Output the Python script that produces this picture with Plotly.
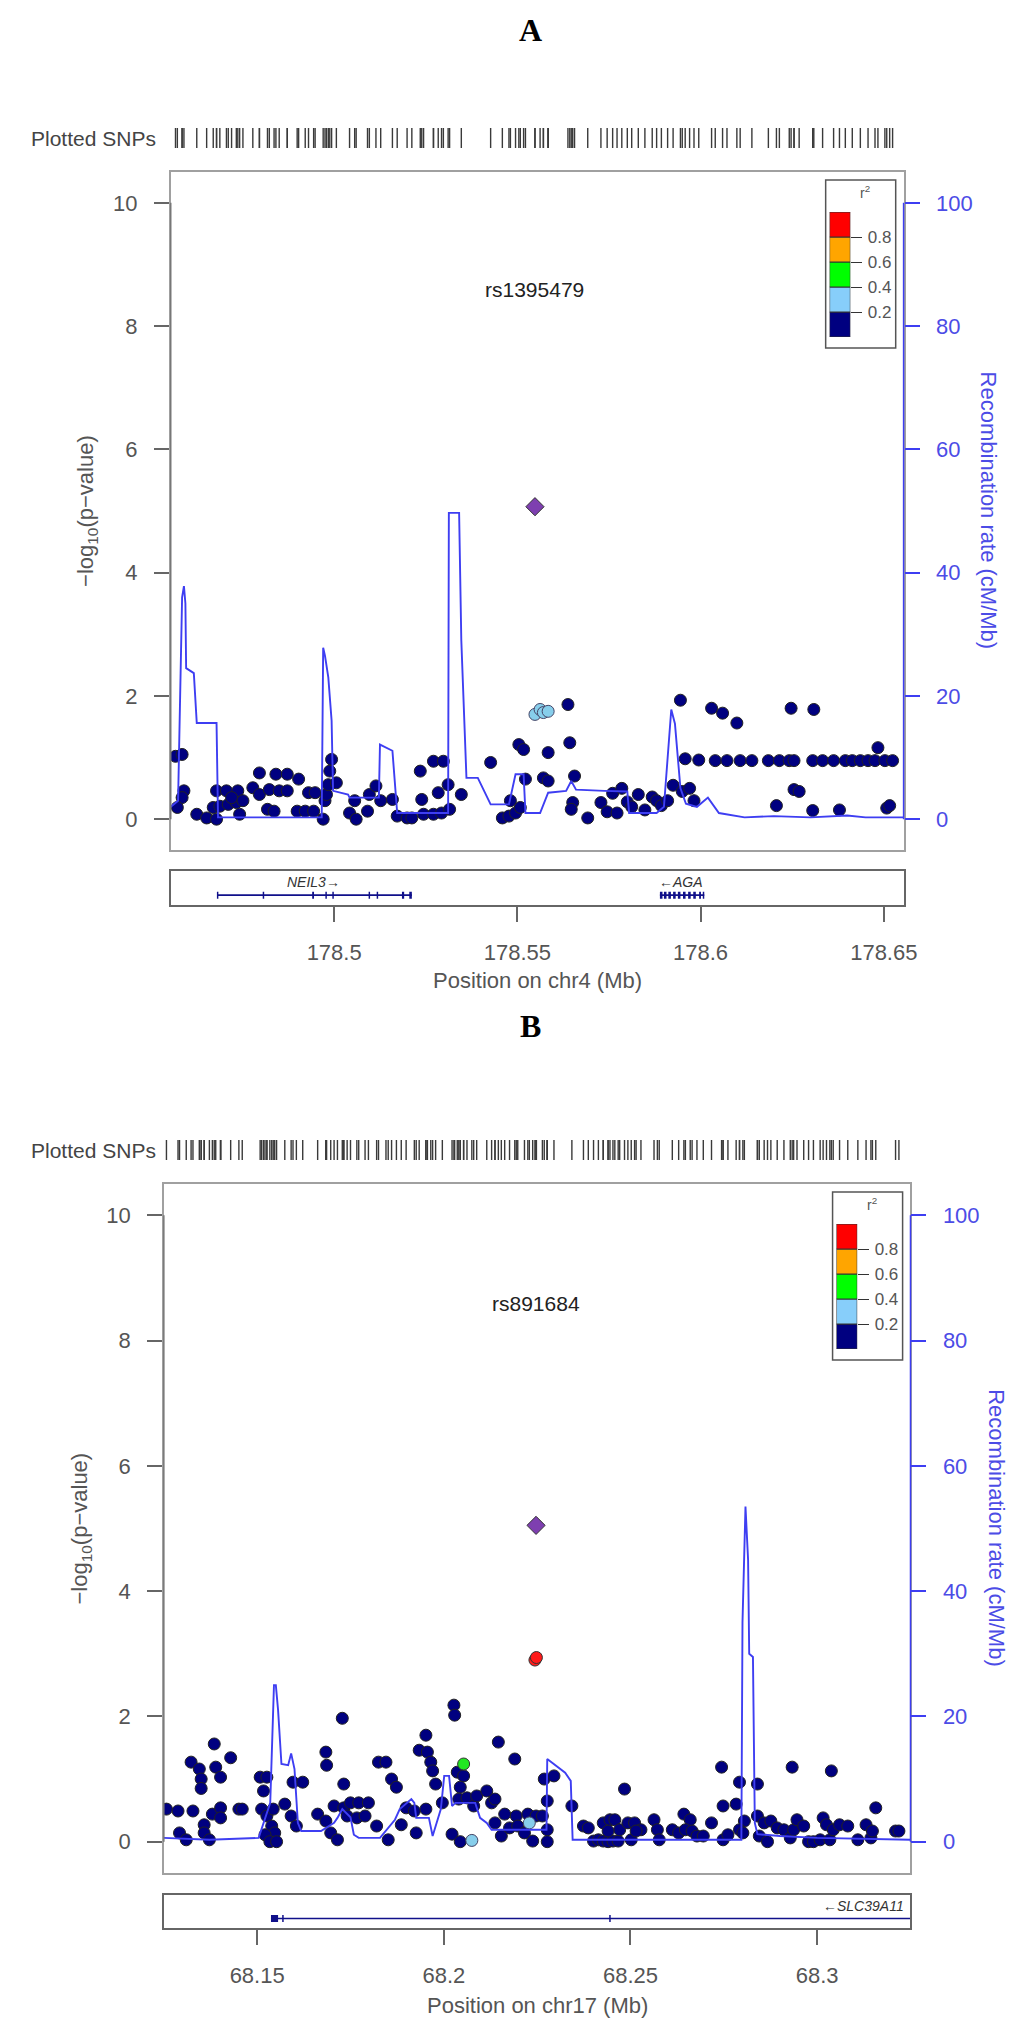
import plotly.graph_objects as go

W, H = 1024, 2020

# ---------------- Panel A data ----------------
a_nav_x = [178.4567, 178.4585, 178.4590, 178.4585, 178.4572, 178.4625, 178.4652, 178.4679, 178.4679, 178.4706,
           178.4737, 178.4670, 178.4688, 178.4711, 178.4733, 178.4742, 178.4720, 178.4751, 178.4796, 178.4778,
           178.4796, 178.4823, 178.4850, 178.4872, 178.4841, 178.4872, 178.4903, 178.4818, 178.4836, 178.4899,
           178.4921, 178.4944, 178.4930, 178.4948, 178.4970, 178.4975, 178.4979, 178.4984, 178.4993, 178.4988,
           178.5006, 178.5042, 178.5060, 178.5056, 178.5091, 178.5096, 178.5114, 178.5127, 178.5159, 178.5172,
           178.5199, 178.5212, 178.5235, 178.5239, 178.5244, 178.5271, 178.5293, 178.5315, 178.5271, 178.5298,
           178.5284, 178.5311, 178.5347, 178.5427, 178.5459, 178.5477, 178.5495, 178.5508, 178.5481, 178.5504,
           178.5517, 178.5522, 178.5571, 178.5584, 178.5584, 178.5638, 178.5643, 178.5656, 178.5651, 178.5647,
           178.5692, 178.5728, 178.5745, 178.5760, 178.5772, 178.5785, 178.5800, 178.5812, 178.5830, 178.5848,
           178.5868, 178.5880, 178.5893, 178.5910, 178.5925, 178.5945, 178.5950, 178.5958, 178.5970, 178.5982,
           178.5995, 178.6030, 178.6040, 178.6060, 178.6072, 178.6099, 178.6108, 178.6140, 178.6185, 178.6215,
           178.6242, 178.6255, 178.6306, 178.6333, 178.6363, 178.6395, 178.6414, 178.6436, 178.6457, 178.6476,
           178.6503, 178.6524, 178.6484, 178.6207, 178.6255, 178.6269, 178.6306, 178.6379, 178.6508, 178.6516,
           178.6247, 178.6309]
a_nav_y = [1.02, 1.05, 0.46, 0.35, 0.19, 0.08, 0.02, 0.00, 0.46, 0.46,
           0.46, 0.19, 0.21, 0.24, 0.27, 0.08, 0.35, 0.30, 0.75, 0.51,
           0.40, 0.48, 0.46, 0.46, 0.73, 0.73, 0.65, 0.16, 0.13, 0.13,
           0.13, 0.13, 0.43, 0.43, 0.00, 0.30, 0.40, 0.56, 0.97, 0.78,
           0.59, 0.10, 0.00, 0.30, 0.13, 0.40, 0.54, 0.30, 0.32, 0.05,
           0.02, 0.02, 0.78, 0.32, 0.08, 0.08, 0.10, 0.16, 0.94, 0.94,
           0.43, 0.56, 0.40, 0.92, 0.02, 0.05, 0.10, 0.19, 0.30, 1.21,
           1.13, 0.65, 0.67, 0.62, 1.08, 1.86, 1.24, 0.70, 0.27, 0.16,
           0.02, 0.27, 0.12, 0.42, 0.10, 0.50, 0.28, 0.20, 0.40, 0.15,
           0.36, 0.30, 0.22, 0.30, 0.55, 1.93, 0.45, 0.98, 0.50, 0.30,
           0.96, 1.80, 0.95, 1.72, 0.95, 1.56, 0.95, 0.95, 0.95, 0.95,
           0.95, 0.95, 0.95, 0.95, 0.95, 0.95, 0.95, 0.95, 0.95, 0.95,
           0.95, 0.95, 1.16, 0.22, 0.48, 0.45, 0.14, 0.15, 0.18, 0.22,
           1.80, 1.78]
a_lb_x = [178.5548, 178.5562, 178.5571, 178.5584]
a_lb_y = [1.70, 1.78, 1.73, 1.75]
a_lead_x = [178.5548]
a_lead_y = [5.07]
a_rec_x = [178.4554, 178.4574, 178.4585, 178.4590, 178.4594, 178.4596, 178.4617, 178.4625, 178.4679, 178.4683,
           178.4966, 178.4970, 178.4975, 178.4984, 178.4993, 178.4997, 178.5038, 178.5042, 178.5122, 178.5125,
           178.5159, 178.5165, 178.5172, 178.5311, 178.5313, 178.5341, 178.5347, 178.5361, 178.5392, 178.5427,
           178.5477, 178.5495, 178.5517, 178.5522, 178.5562, 178.5584, 178.5633, 178.5647, 178.5660, 178.5737,
           178.5800, 178.5805, 178.5880, 178.5900, 178.5920, 178.5930, 178.5945, 178.5960, 178.5990, 178.6020,
           178.6050, 178.6120, 178.6200, 178.6300, 178.6400, 178.6450, 178.6554]
a_rec_y = [2.0, 3.0, 36.0, 37.8, 35.0, 24.5, 23.7, 15.6, 15.6, 0.3,
           0.3, 27.8, 26.5, 23.0, 16.0, 4.6, 4.0, 3.5, 3.5, 12.1,
           11.1, 5.6, 1.0, 1.0, 49.7, 49.7, 29.0, 6.7, 6.7, 2.4,
           2.4, 7.3, 7.3, 1.0, 1.0, 4.3, 4.6, 6.2, 4.8, 4.6,
           4.5, 1.0, 1.0, 2.0, 17.8, 15.5, 5.0, 2.5, 2.0, 3.5,
           1.0, 0.3, 0.5, 0.3, 0.6, 0.3, 0.3]
a_xticks = [178.5, 178.55, 178.6, 178.65]
a_xticktext = ["178.5", "178.55", "178.6", "178.65"]
a_genes = ["NEIL3\u2192", "\u2190AGA"]
a_gene_start = [178.4682, 178.5889]
a_gene_end = [178.5212, 178.6010]
a_gene_label_x = [178.4944, 178.5946]
a_exon_start = [178.4680, 178.4805, 178.4940, 178.4976, 178.4995, 178.5094, 178.5116, 178.5185, 178.5205,
                178.5889, 178.5900, 178.5912, 178.5925, 178.5938, 178.5952, 178.5966, 178.5980, 178.5996, 178.6006]
a_exon_end = [178.4684, 178.4809, 178.4945, 178.4980, 178.4999, 178.5098, 178.5120, 178.5191, 178.5212,
              178.5896, 178.5907, 178.5919, 178.5932, 178.5945, 178.5959, 178.5973, 178.5987, 178.6001, 178.6010]
a_snp = "rs1395479"
a_chr = "Position on chr4 (Mb)"
a_range = [178.4554, 178.6554]

# ---------------- Panel B data ----------------
b_nav_x = [68.1257, 68.1288, 68.1328, 68.1292, 68.1310, 68.1323, 68.1345, 68.1350, 68.1350, 68.1385,
           68.1389, 68.1402, 68.1429, 68.1358, 68.1358, 68.1372, 68.1380, 68.1402, 68.1402, 68.1451,
           68.1460, 68.1508, 68.1526, 68.1517, 68.1512, 68.1526, 68.1543, 68.1539, 68.1547, 68.1521,
           68.1534, 68.1552, 68.1574, 68.1591, 68.1605, 68.1596, 68.1622, 68.1662, 68.1684, 68.1684,
           68.1686, 68.1697, 68.1715, 68.1706, 68.1732, 68.1741, 68.1728, 68.1732, 68.1750, 68.1772,
           68.1798, 68.1767, 68.1789, 68.1820, 68.1825, 68.1845, 68.1860, 68.1873, 68.1851, 68.1886,
           68.1899, 68.1921, 68.1926, 68.1952, 68.1934, 68.1956, 68.1965, 68.1970, 68.1952, 68.1978,
           68.1996, 68.2027, 68.2029, 68.2036, 68.2053, 68.2044, 68.2040, 68.2062, 68.2080, 68.2088,
           68.2115, 68.2128, 68.2137, 68.2022, 68.2044, 68.2146, 68.2190, 68.2137, 68.2154, 68.2176,
           68.2163, 68.2194, 68.2198, 68.2216, 68.2225, 68.2247, 68.2238, 68.2264, 68.2277, 68.2277,
           68.2277, 68.2269, 68.2295,
           68.2343, 68.2374, 68.2387, 68.2401, 68.2414, 68.2427, 68.2440, 68.2453, 68.2467, 68.2427,
           68.2445, 68.2458, 68.2471, 68.2440, 68.2484, 68.2493, 68.2511, 68.2528, 68.2502, 68.2515,
           68.2563, 68.2572, 68.2577, 68.2612, 68.2629, 68.2643, 68.2660, 68.2647, 68.2665, 68.2678,
           68.2695, 68.2717, 68.2744, 68.2748, 68.2761, 68.2748, 68.2783, 68.2792, 68.2805, 68.2792,
           68.2801, 68.2840, 68.2840, 68.2845, 68.2867, 68.2858, 68.2876, 68.2893, 68.2911, 68.2928,
           68.2937, 68.2933, 68.2946, 68.2964, 68.2977, 68.2990, 68.3008, 68.3016, 68.3025, 68.3034,
           68.3043, 68.3038, 68.3060, 68.3082, 68.3109, 68.3131, 68.3144, 68.3148, 68.3157, 68.3210,
           68.3219]
b_nav_y = [0.52, 0.49, 0.49, 0.14, 0.03, 1.27, 1.16, 1.00, 0.85, 1.56,
           1.19, 1.03, 1.34, 0.27, 0.14, 0.03, 0.44, 0.54, 0.38, 0.52,
           0.52, 1.03, 1.03, 0.81, 0.52, 0.41, 0.52, 0.25, 0.14, 0.11,
           0.00, 0.00, 0.60, 0.41, 0.25, 0.95, 0.95, 0.44, 0.33, 1.43,
           1.22, 0.14, 0.03, 0.57, 0.54, 0.41, 1.97, 0.92, 0.62, 0.62,
           0.62, 0.38, 0.41, 0.25, 1.27, 1.27, 1.00, 0.87, 0.03, 0.27,
           0.54, 0.49, 0.14, 0.52, 1.46, 1.43, 1.27, 1.13, 1.70, 0.92,
           0.62, 2.18, 2.02, 1.11, 1.05, 0.87, 0.68, 0.70, 0.57, 0.73,
           0.81, 0.62, 0.68, 0.12, 0.00, 1.59, 1.32, 0.30, 0.09, 0.22,
           0.44, 0.41, 0.25, 0.14, 0.44, 0.41, 0.01, 0.41, 0.19, 0.00,
           0.65, 1.00, 1.05,
           0.57, 0.25, 0.22, 0.01, 0.03, 0.01, 0.00, 0.01, 0.01, 0.30,
           0.35, 0.35, 0.19, 0.17, 0.84, 0.30, 0.30, 0.19, 0.03, 0.17,
           0.35, 0.19, 0.03, 0.19, 0.14, 0.44, 0.35, 0.19, 0.17, 0.09,
           0.09, 0.30, 1.19, 0.03, 0.11, 0.57, 0.60, 0.95, 0.33, 0.19,
           0.14, 0.92, 0.41, 0.09, 0.00, 0.30, 0.33, 0.22, 0.19, 0.06,
           0.19, 1.19, 0.35, 0.25, 0.00, 0.00, 0.03, 0.38, 0.27, 0.03,
           0.19, 1.13, 0.27, 0.25, 0.03, 0.27, 0.06, 0.17, 0.54, 0.17,
           0.17]
b_lb_x = [68.2075, 68.2229]
b_lb_y = [0.02, 0.30]
b_gr_x = [68.2053]
b_gr_y = [1.24]
b_red_x = [68.2244, 68.2248]
b_red_y = [2.90, 2.94]
b_lead_x = [68.2247]
b_lead_y = [5.05]
b_rec_x = [68.1250, 68.1372, 68.1504, 68.1535, 68.1545, 68.1550, 68.1556, 68.1565, 68.1583, 68.1591,
           68.1600, 68.1609, 68.1618, 68.1671, 68.1706, 68.1715, 68.1728, 68.1750, 68.1759, 68.1772,
           68.1829, 68.1869, 68.1882, 68.1913, 68.1921, 68.1926, 68.1960, 68.1970, 68.1992, 68.2001,
           68.2014, 68.2022, 68.2031, 68.2084, 68.2097, 68.2115, 68.2128, 68.2180, 68.2275, 68.2277,
           68.2295, 68.2325, 68.2340, 68.2345, 68.2797, 68.2800, 68.2808, 68.2815, 68.2818, 68.2828,
           68.2833, 68.2840, 68.2900, 68.3000, 68.3250]
b_rec_y = [0.6, 0.3, 0.6, 6.2, 25.0, 25.0, 21.0, 12.4, 12.2, 14.1,
           11.6, 3.0, 1.7, 1.7, 3.0, 3.8, 5.2, 3.9, 1.1, 0.6,
           0.6, 3.5, 5.2, 6.8, 6.2, 3.8, 3.8, 0.9, 5.2, 10.5,
           10.5, 5.7, 6.2, 6.2, 3.8, 3.0, 1.9, 1.9, 1.9, 13.2,
           12.4, 11.0, 9.7, 0.3, 0.3, 35.0, 53.5, 45.0, 30.0, 29.5,
           3.0, 1.2, 0.9, 0.6, 0.3]
b_xticks = [68.15, 68.2, 68.25, 68.3]
b_xticktext = ["68.15", "68.2", "68.25", "68.3"]
b_genes = ["\u2190SLC39A11"]
b_gene_start = [68.1537]
b_gene_end = [68.3300]
b_gene_label_x = [68.3125]
b_exon_start = [68.1537, 68.1567, 68.2443]
b_exon_end = [68.1556, 68.1571, 68.2447]
b_snp = "rs891684"
b_chr = "Position on chr17 (Mb)"
b_range = [68.1250, 68.3250]

# ---------------- shared ----------------
y_ticks = [0, 2, 4, 6, 8, 10]
rec_ticks = [0, 20, 40, 60, 80, 100]
r2_breaks = [0.0, 0.2, 0.4, 0.6, 0.8]
r2_colors = ["#000080", "#87CEFA", "#00FF00", "#FFA500", "#FF0000"]
r2_ticks = [0.2, 0.4, 0.6, 0.8]

NAVY, LBLUE, GREEN, RED = "#000080", "#87CEEB", "#22E622", "#FF1A1A"
LEAD = "#7E3FB0"
REC = "#3E3EF2"
REC_TXT = "#4C4CE6"
GRAY_TXT = "#555555"
FONT = "Liberation Sans"

fig = go.Figure()
layout = {}
annotations = []
shapes = []


def axname(n, k):
    return k if n == 1 else f"{k}{n}"


def laykey(n, k):
    return f"{k}axis" if n == 1 else f"{k}axis{n}"


def X(p):
    return p / W


def Y(p):
    return 1 - p / H


def add_panel(i, g, d):
    xm, xg, xl = 3 * i + 1, 3 * i + 2, 3 * i + 3
    ym, yr, yg, yu, yl = 5 * i + 1, 5 * i + 2, 5 * i + 3, 5 * i + 4, 5 * i + 5
    xdom = [X(g["left"]), X(g["right"])]

    # recombination line
    fig.add_trace(go.Scatter(x=d["rec_x"], y=d["rec_y"], mode="lines",
                             line=dict(color=REC, width=1.9),
                             xaxis=axname(xm, "x"), yaxis=axname(yr, "y"),
                             showlegend=False, hoverinfo="skip"))
    # SNP groups
    for xs, ys, col, sym, size, lc in d["groups"]:
        fig.add_trace(go.Scatter(x=xs, y=ys, mode="markers",
                                 marker=dict(color=col, symbol=sym, size=size,
                                             line=dict(color=lc, width=1)),
                                 xaxis=axname(xm, "x"), yaxis=axname(ym, "y"),
                                 showlegend=False, hoverinfo="skip"))
    # rug of plotted SNPs
    rug = []
    for xs, ys, col, sym, size, lc in d["groups"]:
        rug += list(xs)
    rug = sorted(rug)
    fig.add_trace(go.Scatter(x=rug, y=[0.5] * len(rug), mode="markers",
                             marker=dict(symbol="line-ns", size=17,
                                         line=dict(color="#3a3a3a", width=1.4)),
                             xaxis=axname(xm, "x"), yaxis=axname(yu, "y"),
                             showlegend=False, hoverinfo="skip"))
    # genes: body + exons
    gx, gy = [], []
    for s, e in zip(d["gene_start"], d["gene_end"]):
        gx += [s, e, None]
        gy += [0.29, 0.29, None]
    fig.add_trace(go.Scatter(x=gx, y=gy, mode="lines", line=dict(color="#10108A", width=1.6),
                             xaxis=axname(xg, "x"), yaxis=axname(yg, "y"),
                             showlegend=False, hoverinfo="skip"))
    ex, ey = [], []
    for s, e in zip(d["exon_start"], d["exon_end"]):
        ex += [s, e, None]
        ey += [0.29, 0.29, None]
    fig.add_trace(go.Scatter(x=ex, y=ey, mode="lines", line=dict(color="#10108A", width=7),
                             xaxis=axname(xg, "x"), yaxis=axname(yg, "y"),
                             showlegend=False, hoverinfo="skip"))
    for name, lx in zip(d["genes"], d["gene_label_x"]):
        annotations.append(dict(x=lx, y=0.68, xref=axname(xg, "x"), yref=axname(yg, "y"),
                                xanchor="center", yanchor="middle",
                                text=f"<i>{name}</i>", showarrow=False,
                                font=dict(family=FONT, size=14, color="#333")))
    # legend colour bar
    fig.add_trace(go.Bar(x=[0] * len(r2_breaks), y=[0.2] * len(r2_breaks), base=r2_breaks,
                         width=1, marker=dict(color=r2_colors, line=dict(color="#333", width=1)),
                         xaxis=axname(xl, "x"), yaxis=axname(yl, "y"),
                         showlegend=False, hoverinfo="skip"))

    # axes
    layout[laykey(xm, "x")] = dict(domain=xdom, range=d["range"], anchor=axname(ym, "y"),
                                   showgrid=False, zeroline=False, showticklabels=False, ticks="",
                                   showline=True, mirror=True, linecolor="#a0a0a0", linewidth=1.5)
    layout[laykey(ym, "y")] = dict(domain=[Y(g["bottom"]), Y(g["top"])], range=[-0.5, 10.5],
                                   anchor=axname(xm, "x"), tickvals=y_ticks, ticks="outside",
                                   ticklen=15, tickwidth=1.5, tickcolor="#666",
                                   tickfont=dict(family=FONT, size=22, color=GRAY_TXT),
                                   ticklabelstandoff=12,
                                   showgrid=False, zeroline=False,
                                   showline=True, mirror=True, linecolor="#a0a0a0", linewidth=1.5)
    layout[laykey(yr, "y")] = dict(overlaying=axname(ym, "y"), side="right", anchor=axname(xm, "x"),
                                   range=[-5, 105], tickvals=rec_ticks, ticks="outside",
                                   ticklen=15, tickwidth=1.5, tickcolor=REC,
                                   tickfont=dict(family=FONT, size=22, color=REC_TXT),
                                   ticklabelstandoff=12,
                                   showgrid=False, zeroline=False, showline=False)
    layout[laykey(yu, "y")] = dict(domain=[Y(g["rug"] + 10), Y(g["rug"] - 10)], range=[0, 1],
                                   anchor=axname(xm, "x"), visible=False)
    layout[laykey(xg, "x")] = dict(domain=xdom, range=d["range"], anchor=axname(yg, "y"),
                                   tickvals=d["xticks"], ticktext=d["xticktext"], ticks="outside",
                                   ticklen=15, tickwidth=1.5, tickcolor="#666",
                                   tickfont=dict(family=FONT, size=22, color=GRAY_TXT),
                                   ticklabelstandoff=12,
                                   showgrid=False, zeroline=False,
                                   showline=True, mirror=True, linecolor="#666", linewidth=1.5)
    layout[laykey(yg, "y")] = dict(domain=[Y(g["gbot"]), Y(g["gtop"])], range=[0, 1],
                                   anchor=axname(xg, "x"), showticklabels=False, ticks="",
                                   showgrid=False, zeroline=False,
                                   showline=True, mirror=True, linecolor="#666", linewidth=1.5)
    lb = g["legbar"]
    layout[laykey(xl, "x")] = dict(domain=[X(lb[0]), X(lb[1])], range=[-0.5, 0.5],
                                   anchor=axname(yl, "y"), visible=False)
    layout[laykey(yl, "y")] = dict(domain=[Y(lb[3]), Y(lb[2])], range=[0, 1],
                                   anchor=axname(xl, "x"), side="right", tickvals=r2_ticks,
                                   ticktext=[f"{v:.1f}" for v in r2_ticks], ticks="outside",
                                   ticklen=11, tickwidth=1.3, tickcolor="#333",
                                   tickfont=dict(family=FONT, size=17, color=GRAY_TXT),
                                   ticklabelstandoff=2,
                                   showgrid=False, zeroline=False, showline=False)

    # shapes: legend box, axis spines
    bx = g["legbox"]
    shapes.append(dict(type="rect", xref="paper", yref="paper", x0=X(bx[0]), x1=X(bx[1]),
                       y0=Y(bx[3]), y1=Y(bx[2]), line=dict(color="#555", width=1.5),
                       fillcolor="rgba(0,0,0,0)"))
    shapes.append(dict(type="line", xref=f"{axname(xm, 'x')} domain", yref=axname(yr, "y"),
                       x0=1, x1=1, y0=0, y1=100, line=dict(color=REC, width=1.5)))
    shapes.append(dict(type="line", xref=f"{axname(xm, 'x')} domain", yref=axname(ym, "y"),
                       x0=0, x1=0, y0=0, y1=10, line=dict(color="#777", width=1.5)))

    # texts
    def pa(x, y, text, size, color, family=FONT, angle=0, xa="center"):
        annotations.append(dict(x=x, y=y, xref="paper", yref="paper", xanchor=xa, yanchor="middle",
                                text=text, showarrow=False, textangle=angle,
                                font=dict(family=family, size=size, color=color)))

    pa(X(530), Y(g["title"]), f"<b>{d['panel']}</b>", 32, "#000", family="Liberation Serif")
    pa(X(152), Y(g["rug"]), "Plotted SNPs", 21, "#444", xa="right")
    annotations.append(dict(x=d["lead_x"][0], y=8.6, xref=axname(xm, "x"), yref=axname(ym, "y"),
                            xanchor="center", yanchor="middle",
                            text=d["snp"], showarrow=False,
                            font=dict(family=FONT, size=21, color="#222")))
    ymid = (Y(g["top"]) + Y(g["bottom"])) / 2
    pa(X(g["ytitle"]), ymid, "\u2212log<sub>10</sub>(p\u2212value)", 22, GRAY_TXT, angle=-90)
    pa(X(g["rtitle"]), ymid, "Recombination rate (cM/Mb)", 22, REC_TXT, angle=90)
    pa((xdom[0] + xdom[1]) / 2, Y(g["xtitle"]), d["chr"], 22, GRAY_TXT)
    pa(X((bx[0] + bx[1]) / 2 + 4), Y(bx[2] + 12), "r<sup>2</sup>", 14, GRAY_TXT)


geomA = dict(left=165, right=908, top=164, bottom=842, rug=130, gtop=863, gbot=897,
             legbar=(833, 854, 204, 329), legbox=(829, 900, 172, 340), title=22,
             xtitle=972, ytitle=80, rtitle=995)
geomB = dict(left=158, right=915, top=1176, bottom=1865, rug=1142, gtop=1887, gbot=1920,
             legbar=(840, 861, 1216, 1341), legbox=(836, 907, 1184, 1352), title=1018,
             xtitle=1997, ytitle=74, rtitle=1002)

dataA = dict(panel="A", snp=a_snp, chr=a_chr, range=a_range, lead_x=a_lead_x,
             rec_x=a_rec_x, rec_y=a_rec_y, xticks=a_xticks, xticktext=a_xticktext,
             genes=a_genes, gene_start=a_gene_start, gene_end=a_gene_end,
             gene_label_x=a_gene_label_x, exon_start=a_exon_start, exon_end=a_exon_end,
             groups=[(a_nav_x, a_nav_y, NAVY, "circle", 12, "#222"),
                     (a_lb_x, a_lb_y, LBLUE, "circle", 12, "#446"),
                     (a_lead_x, a_lead_y, LEAD, "diamond", 14, "#333")])
dataB = dict(panel="B", snp=b_snp, chr=b_chr, range=b_range, lead_x=b_lead_x,
             rec_x=b_rec_x, rec_y=b_rec_y, xticks=b_xticks, xticktext=b_xticktext,
             genes=b_genes, gene_start=b_gene_start, gene_end=b_gene_end,
             gene_label_x=b_gene_label_x, exon_start=b_exon_start, exon_end=b_exon_end,
             groups=[(b_nav_x, b_nav_y, NAVY, "circle", 12, "#222"),
                     (b_lb_x, b_lb_y, LBLUE, "circle", 12, "#446"),
                     (b_gr_x, b_gr_y, GREEN, "circle", 12, "#333"),
                     (b_red_x, b_red_y, RED, "circle", 12, "#333"),
                     (b_lead_x, b_lead_y, LEAD, "diamond", 14, "#333")])

add_panel(0, geomA, dataA)
add_panel(1, geomB, dataB)

fig.update_layout(width=W, height=H, autosize=False,
                  margin=dict(l=0, r=0, t=0, b=0),
                  paper_bgcolor="white", plot_bgcolor="rgba(0,0,0,0)",
                  showlegend=False, annotations=annotations, shapes=shapes,
                  font=dict(family=FONT), **layout)
fig.write_html("out.html")
